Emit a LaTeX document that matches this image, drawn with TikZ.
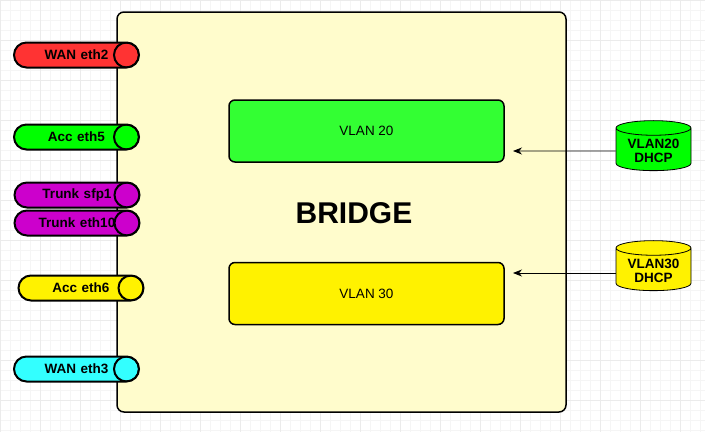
\documentclass[tikz,border=0pt]{standalone}
\usepackage{fontspec}
\setmainfont{Liberation Sans}
\usetikzlibrary{shapes.geometric,arrows.meta}
\definecolor{trunkpurple}{HTML}{CC00CC}
\definecolor{wancyan}{HTML}{33FFFF}
\definecolor{wanred}{HTML}{FF3333}
\definecolor{vgreen}{HTML}{33FF33}
\begin{document}
\begin{tikzpicture}
		[x=1pt,y=-1pt,
		port/.style ={rectangle, draw=black, line width=2pt, rounded corners=12.5pt, minimum width=125pt, minimum height=25pt, inner sep=0pt, text width=102pt, align=center, font=\bfseries\fontsize{13.5}{13.5}\selectfont,
			path picture={\draw[line width=2pt] ([xshift=-12.5pt]path picture bounding box.east) circle (12.5pt);}},
		vlan/.style ={rectangle, draw=black, line width=1.5pt, rounded corners=6pt, minimum width=275pt, minimum height=62pt, font=\fontsize{13.5}{13.5}\selectfont},
		dhcp/.style ={cylinder, shape border rotate=90, draw=black, thick, minimum height=50pt, minimum width=75pt, aspect=0.25, align=center, font=\bfseries\fontsize{13.5}{14}\selectfont},
		line/.style ={draw, thick, -{Stealth[length=9pt,width=7pt]}},
		]
		\useasboundingbox (0,0) rectangle (705,432);
		\draw[gray!8] (0,0) grid[step=10pt] (705,432);
		\draw[gray!16] (0,0) grid[step=40pt] (705,432);

		\node[draw=black, line width=1.5pt, fill=yellow!20, rounded corners=7pt, minimum width=449pt, minimum height=400pt] (bridge) at (341.5,212) {};
		\node[font=\bfseries\fontsize{30}{30}\selectfont] (title) at (354,213) {BRIDGE};

		\node[port, fill=wanred] (wan2) at (76.5,55) {WAN eth2};
		\node[port, fill=green] (acc5) at (76.5,137) {Acc eth5};
		\node[port, fill=trunkpurple] (sfp1) at (77,195) {Trunk sfp1};
		\node[port, fill=trunkpurple] (eth10) at (77,223) {Trunk eth10};
		\node[port, fill=yellow] (acc6) at (81,288) {Acc eth6};
		\node[port, fill=wancyan] (wan3) at (76.5,369) {WAN eth3};

		\node[vlan, fill=vgreen] (v20) at (366.5,131) {VLAN 20};
		\node[vlan, fill=yellow] (v30) at (366.5,293.5) {VLAN 30};

		\node[dhcp, fill=green] (d20) at (653.5,151) {VLAN20\\DHCP};
		\node[dhcp, fill=yellow] (d30) at (653.5,271) {VLAN30\\DHCP};

		\coordinate (in20) at (513,151);
		\coordinate (in30) at (513,273);

		\path[line] (d20.west) -- (in20);
		\path[line] (d30.west |- in30) -- (in30);

	\end{tikzpicture}
\end{document}
